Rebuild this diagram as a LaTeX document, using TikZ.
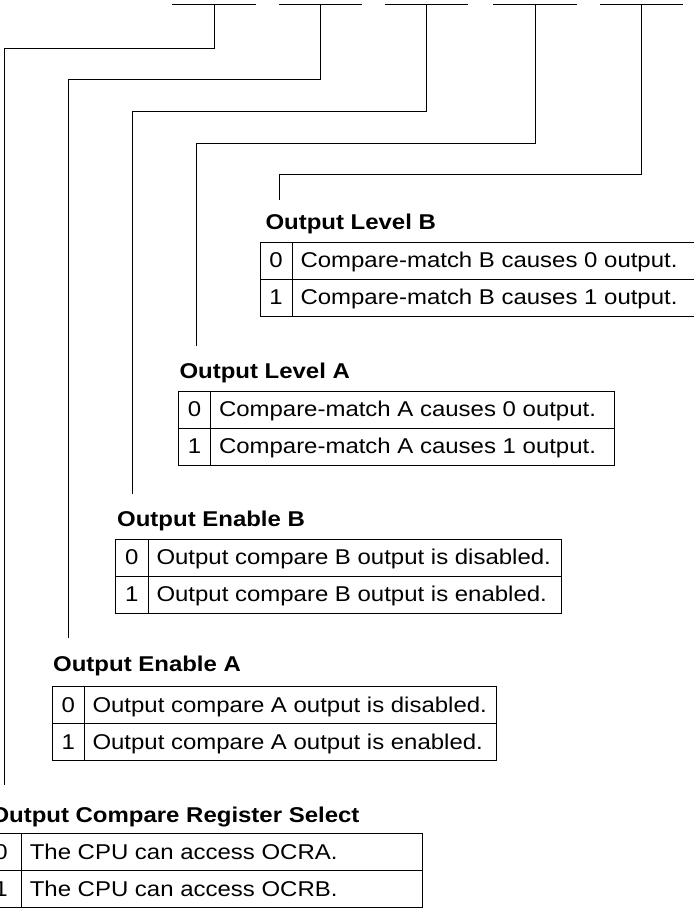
\documentclass[tikz,border=0pt]{standalone}
\usepackage{fontspec}
\setmainfont{Liberation Sans}[FakeStretch=1.12]

\begin{document}
\begin{tikzpicture}[x=0.5pt, y=-0.5pt, line width=0.5pt,
    title/.style={anchor=base west, inner sep=0pt, font=\fontsize{10.7}{12}\selectfont\bfseries},
    bitval/.style={anchor=base, inner sep=0pt, font=\fontsize{10.7}{12}\selectfont},
    desc/.style={anchor=base west, inner sep=0pt, font=\fontsize{10.7}{12}\selectfont}]
    \useasboundingbox (0,0) rectangle (693,908);

    % register bits
    \foreach \i/\cx in {1/214, 2/320.7, 3/426.5, 4/535, 5/641.5} {
        \draw (\cx-41.7,5) -- (\cx+41.7,5);
        \coordinate (bit\i) at (\cx,5);
    }

    \coordinate (ocrs-in) at (4,785);
    \coordinate (oea-in) at (68,638);
    \coordinate (oeb-in) at (132,494);
    \coordinate (ola-in) at (196.5,346);
    \coordinate (olb-in) at (279.5,200);

    \draw (bit1) -- ++(0,44) -| (ocrs-in);
    \draw (bit2) -- ++(0,75) -| (oea-in);
    \draw (bit3) -- ++(0,107) -| (oeb-in);
    \draw (bit4) -- ++(0,138.5) -| (ola-in);
    \draw (bit5) -- ++(0,169.5) -| (olb-in);

    % Output Level B
    \node[title] (olb) at (265,230) {Output Level B};
    \draw (260,242.5) rectangle (696,316.5) (260,279.5) -- (696,279.5) (292,242.5) -- (292,316.5);
    \node[bitval] (olb0) at (276,268) {0};
    \node[desc] (olb0t) at (300,268) {Compare-match B causes 0 output.};
    \node[bitval] (olb1) at (276,305) {1};
    \node[desc] (olb1t) at (300,305) {Compare-match B causes 1 output.};

    % Output Level A
    \node[title] (ola) at (179,379) {Output Level A};
    \draw (178.3,391) rectangle (614,465) (178.3,428) -- (614,428) (210.7,391) -- (210.7,465);
    \node[bitval] (ola0) at (194.5,416.5) {0};
    \node[desc] (ola0t) at (218.5,416.5) {Compare-match A causes 0 output.};
    \node[bitval] (ola1) at (194.5,453.5) {1};
    \node[desc] (ola1t) at (218.5,453.5) {Compare-match A causes 1 output.};

    % Output Enable B
    \node[title] (oeb) at (116.7,526) {Output Enable B};
    \draw (115,539) rectangle (561,613) (115,576) -- (561,576) (148.3,539) -- (148.3,613);
    \node[bitval] (oeb0) at (131.7,564.5) {0};
    \node[desc] (oeb0t) at (156,564.5) {Output compare B output is disabled.};
    \node[bitval] (oeb1) at (131.7,601.5) {1};
    \node[desc] (oeb1t) at (156,601.5) {Output compare B output is enabled.};

    % Output Enable A
    \node[title] (oea) at (52.7,671.7) {Output Enable A};
    \draw (52.7,686.7) rectangle (496.7,760.7) (52.7,723.7) -- (496.7,723.7) (84,686.7) -- (84,760.7);
    \node[bitval] (oea0) at (68.4,712.2) {0};
    \node[desc] (oea0t) at (92,712.2) {Output compare A output is disabled.};
    \node[bitval] (oea1) at (68.4,749.2) {1};
    \node[desc] (oea1t) at (92,749.2) {Output compare A output is enabled.};

    % Output Compare Register Select
    \node[title] (ocrs) at (-10,822.7) {Output Compare Register Select};
    \draw (-28,833.5) rectangle (422.3,907.5) (-28,870.5) -- (422.3,870.5) (21,833.5) -- (21,907.5);
    \node[bitval] (ocrs0) at (1,859) {0};
    \node[desc] (ocrs0t) at (29.3,859) {The CPU can access OCRA.};
    \node[bitval] (ocrs1) at (1,896) {1};
    \node[desc] (ocrs1t) at (29.3,896) {The CPU can access OCRB.};
\end{tikzpicture}
\end{document}
